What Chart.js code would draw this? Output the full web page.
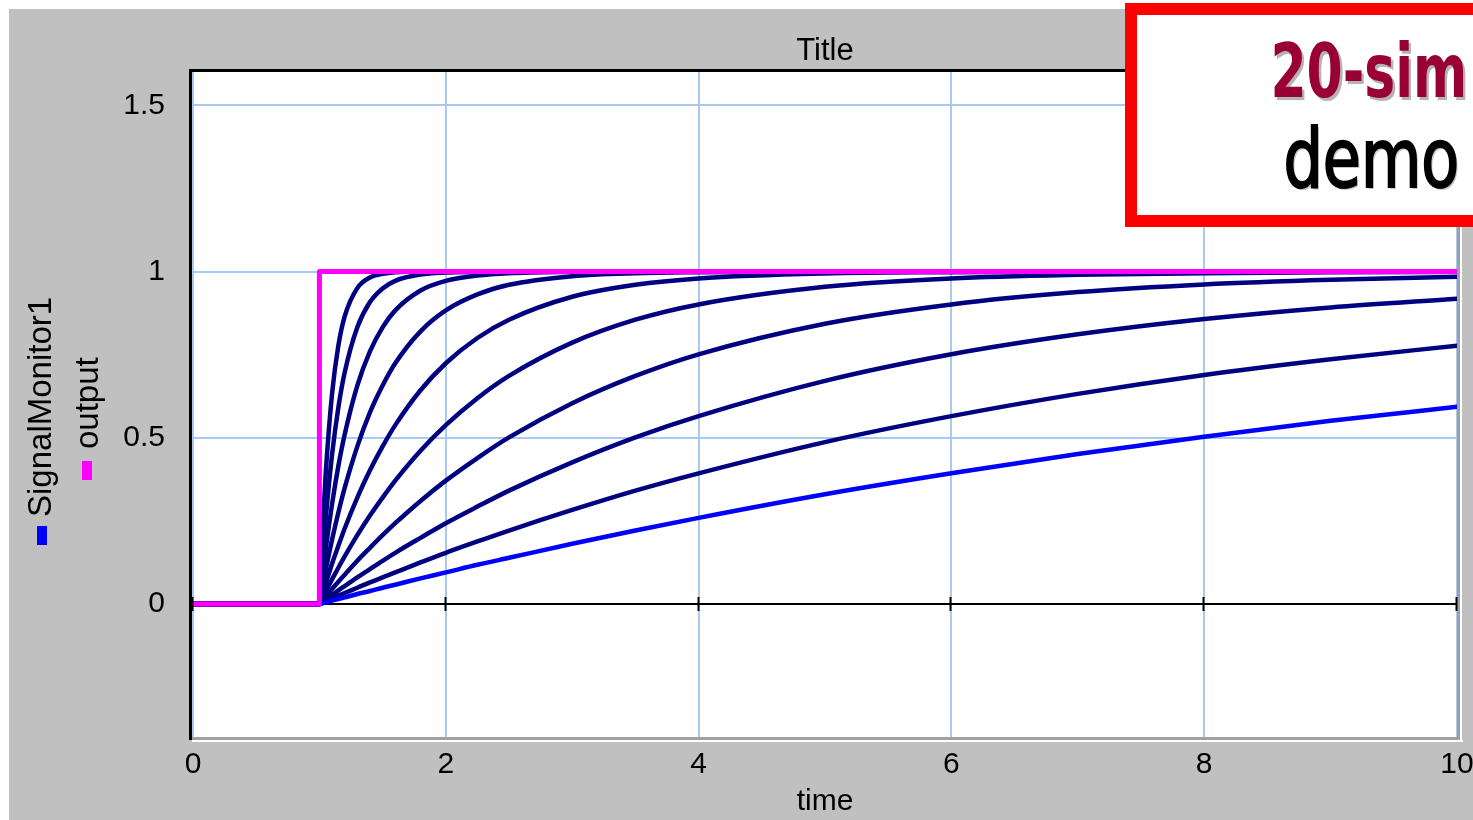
<!DOCTYPE html>
<html>
<head>
<meta charset="utf-8">
<title>Title</title>
<script src="https://cdn.jsdelivr.net/npm/chart.js@4.4.1/dist/chart.umd.min.js"></script>
<style>
  html, body { margin: 0; padding: 0; background: #ffffff; }
  #wrap { position: relative; width: 1473px; height: 820px; overflow: hidden; }
  #plot { position: absolute; left: 0; top: 0; }
  #logo {
    position: absolute; left: 1125px; top: 3px;
    width: 420px; height: 200px;
    border: 12px solid #ff0000; background: #ffffff;
  }
  .brand, .demo {
    position: absolute; white-space: nowrap;
    font-family: "DejaVu Sans Condensed", "DejaVu Sans", sans-serif;
    transform-origin: right center;
  }
  .brand {
    right: 6px; top: 33px;
    font-weight: bold; font-size: 74px; line-height: 77px;
    color: #990033; text-shadow: 3px 3px 0 #b4b4b4;
    transform: scaleX(0.78);
  }
  .demo {
    right: 14px; top: 118px;
    font-weight: normal; font-size: 82px; line-height: 82px;
    color: #000000; text-shadow: 2px 2px 0 #c8c8c8;
    -webkit-text-stroke: 2px #000000;
    transform: scaleX(0.84);
  }
</style>
</head>
<body>
<div id="wrap">
  <canvas id="plot" width="1473" height="820"></canvas>
  <div id="logo"></div>
  <div class="brand">20-sim</div>
  <div class="demo">demo</div>
</div>
<script>
// ---- data -------------------------------------------------------------
const chartTitle = 'Title';
const xAxisTitle = 'time';
const xTickValues = [0, 2, 4, 6, 8, 10];
const yTickValues = [0, 0.5, 1, 1.5];

// sample times shared by every simulation run
const time = [0, 1, 1.025, 1.05, 1.1, 1.15, 1.2, 1.3, 1.4, 1.5, 1.6, 1.8,
              2, 2.25, 2.5, 3, 3.5, 4, 5, 6, 7, 8, 9, 10];

// step input
const outputTime  = [0, 1, 1, 10];
const outputValue = [0, 0, 1, 1];

// current run
const signalMonitor1 = [0, 0, .002, .005, .010, .015, .020, .030, .039, .049, .058, .077,
                        .095, .118, .139, .181, .221, .259, .330, .393, .451, .503, .551, .593];

// earlier runs of the parameter sweep (fastest first)
const run1 = [0, 0, .221, .393, .632, .777, .865, .950, .982, .993, .998, 1,
              1, 1, 1, 1, 1, 1, 1, 1, 1, 1, 1, 1];
const run2 = [0, 0, .138, .257, .449, .591, .696, .832, .908, .949, .972, .991,
              .997, .999, 1, 1, 1, 1, 1, 1, 1, 1, 1, 1];
const run3 = [0, 0, .085, .164, .300, .415, .510, .657, .760, .832, .883, .943,
              .972, .988, .995, .999, 1, 1, 1, 1, 1, 1, 1, 1];
const run4 = [0, 0, .052, .102, .193, .275, .349, .474, .576, .657, .724, .820,
              .883, .931, .960, .986, .995, .998, 1, 1, 1, 1, 1, 1];
const run5 = [0, 0, .032, .062, .121, .175, .227, .320, .402, .474, .538, .643,
              .724, .800, .855, .924, .960, .979, .994, .998, 1, 1, 1, 1];
const run6 = [0, 0, .019, .038, .074, .109, .143, .207, .266, .320, .371, .461,
              .538, .619, .686, .786, .855, .901, .954, .979, .990, .995, .998, .999];
const run7 = [0, 0, .011, .023, .045, .067, .088, .130, .169, .207, .243, .310,
              .371, .439, .501, .604, .686, .751, .843, .901, .938, .961, .975, .984];
const run8 = [0, 0, .007, .014, .027, .041, .054, .080, .105, .130, .154, .199,
              .243, .293, .341, .426, .501, .565, .671, .751, .811, .857, .892, .918];
const run9 = [0, 0, .004, .008, .017, .025, .033, .049, .065, .080, .095, .125,
              .154, .188, .221, .283, .341, .393, .487, .565, .632, .689, .736, .777];
const earlierRuns = [run1, run2, run3, run4, run5, run6, run7, run8, run9];

// ---- styling ----------------------------------------------------------
const FONT = '"Liberation Sans", Arial, sans-serif';
const GRID_BLUE = '#A6CAF0';
const NAVY = '#000080';
const BLUE = '#0000FF';
const MAGENTA = '#FF00FF';

const legendEntries = [
  { label: 'SignalMonitor1', color: BLUE,    baseX: 51, startY: 517, box: [37, 526, 10, 19] },
  { label: 'output',         color: MAGENTA, baseX: 98, startY: 449, box: [82, 461, 10, 19] }
];

const toPoints = (xs, ys) => xs.map((x, i) => ({ x: x, y: ys[i] }));

const datasets = [
  { label: 'output', data: toPoints(outputTime, outputValue),
    borderColor: MAGENTA, borderWidth: 5, tension: 0 },
  { label: 'SignalMonitor1', data: toPoints(time, signalMonitor1),
    borderColor: BLUE, borderWidth: 4.5, cubicInterpolationMode: 'monotone' }
].concat(earlierRuns.map(r => ({
    label: 'SignalMonitor1', data: toPoints(time, r),
    borderColor: NAVY, borderWidth: 4.5, cubicInterpolationMode: 'monotone'
})));

// panel background, plot frame, title, zero-line ticks and the vertical legend
const panelPlugin = {
  id: 'panel',
  beforeDraw(chart) {
    const { ctx, chartArea: a, width, height } = chart;
    ctx.save();
    ctx.fillStyle = '#ffffff';
    ctx.fillRect(0, 0, width, height);
    ctx.fillStyle = '#C0C0C0';
    ctx.fillRect(9, 9, width - 9, height - 9);
    ctx.fillStyle = '#ffffff';
    ctx.fillRect(a.left - 2, a.top - 1, a.right - a.left + 2, a.bottom - a.top + 1);
    ctx.restore();
  },
  afterDraw(chart) {
    const { ctx, chartArea: a, scales } = chart;
    ctx.save();
    // sunken frame: dark top/left, light bottom/right
    ctx.fillStyle = '#000000';
    ctx.fillRect(a.left - 4, a.top - 3, chart.width - a.left + 4, 3);
    ctx.fillRect(a.left - 4, a.top - 3, 3, a.bottom - a.top + 6);
    ctx.fillStyle = '#A0A0A0';
    ctx.fillRect(a.left - 1, a.bottom, a.right - a.left + 4, 3);
    ctx.fillRect(a.right, a.top, 3, a.bottom - a.top + 3);
    ctx.fillStyle = '#ffffff';
    ctx.fillRect(a.left - 1, a.bottom + 3, a.right - a.left + 7, 2);
    ctx.fillRect(a.right + 3, a.top, 2, a.bottom - a.top + 5);

    // title centred over the plot area
    ctx.fillStyle = '#000000';
    ctx.font = '31px ' + FONT;
    ctx.textAlign = 'center';
    ctx.textBaseline = 'middle';
    ctx.fillText(chartTitle, (a.left + a.right) / 2, 51);

    // tick marks on the zero line
    const y0 = scales.y.getPixelForValue(0);
    ctx.strokeStyle = '#000000';
    ctx.lineWidth = 2;
    xTickValues.forEach(v => {
      const px = Math.round(scales.x.getPixelForValue(v)) - 0.5;
      ctx.beginPath();
      ctx.moveTo(px, y0 - 7);
      ctx.lineTo(px, y0 + 7);
      ctx.stroke();
    });

    // vertical legend down the left side
    ctx.font = '33px ' + FONT;
    ctx.textAlign = 'left';
    ctx.textBaseline = 'alphabetic';
    legendEntries.forEach(e => {
      ctx.fillStyle = e.color;
      ctx.fillRect(e.box[0], e.box[1], e.box[2], e.box[3]);
      ctx.save();
      ctx.translate(e.baseX, e.startY);
      ctx.rotate(-Math.PI / 2);
      ctx.fillStyle = '#000000';
      ctx.fillText(e.label, 0, 0);
      ctx.restore();
    });
    ctx.restore();
  }
};

Chart.defaults.font.family = FONT;
Chart.defaults.color = '#000000';

new Chart(document.getElementById('plot'), {
  type: 'line',
  data: { datasets: datasets },
  plugins: [panelPlugin],
  options: {
    responsive: false,
    animation: false,
    devicePixelRatio: 1,
    layout: { padding: { left: 0, top: 72, right: 16, bottom: 0 } },
    elements: {
      point: { radius: 0, hoverRadius: 0 },
      line: { borderJoinStyle: 'round', borderCapStyle: 'round' }
    },
    plugins: {
      legend: { display: false },
      tooltip: { enabled: false },
      title: { display: false }
    },
    scales: {
      x: {
        type: 'linear', min: 0, max: 10,
        afterFit(scale) {
          scale.height = 83;
          scale.paddingLeft = 0;
          scale.paddingRight = 0;
        },
        afterBuildTicks(scale) { scale.ticks = xTickValues.map(v => ({ value: v })); },
        ticks: { font: { size: 30 }, color: '#000000', padding: 10, maxRotation: 0,
                 callback: v => String(v) },
        grid: { color: GRID_BLUE, lineWidth: 2, drawTicks: false },
        border: { display: false },
        title: {
          display: true, text: xAxisTitle, color: '#000000',
          font: { size: 30, family: FONT }, padding: { top: 0, bottom: 0 }
        }
      },
      y: {
        type: 'linear', min: -0.4, max: 1.6,
        afterFit(scale) {
          scale.width = 193;
          scale.paddingTop = 0;
          scale.paddingBottom = 0;
        },
        afterBuildTicks(scale) { scale.ticks = yTickValues.map(v => ({ value: v })); },
        ticks: { font: { size: 30 }, color: '#000000', padding: 28,
                 callback: v => String(v) },
        grid: {
          drawTicks: false,
          color: ctx => (ctx.tick && ctx.tick.value === 0) ? '#000000' : GRID_BLUE,
          lineWidth: 2
        },
        border: { display: false }
      }
    }
  }
});
</script>
</body>
</html>
